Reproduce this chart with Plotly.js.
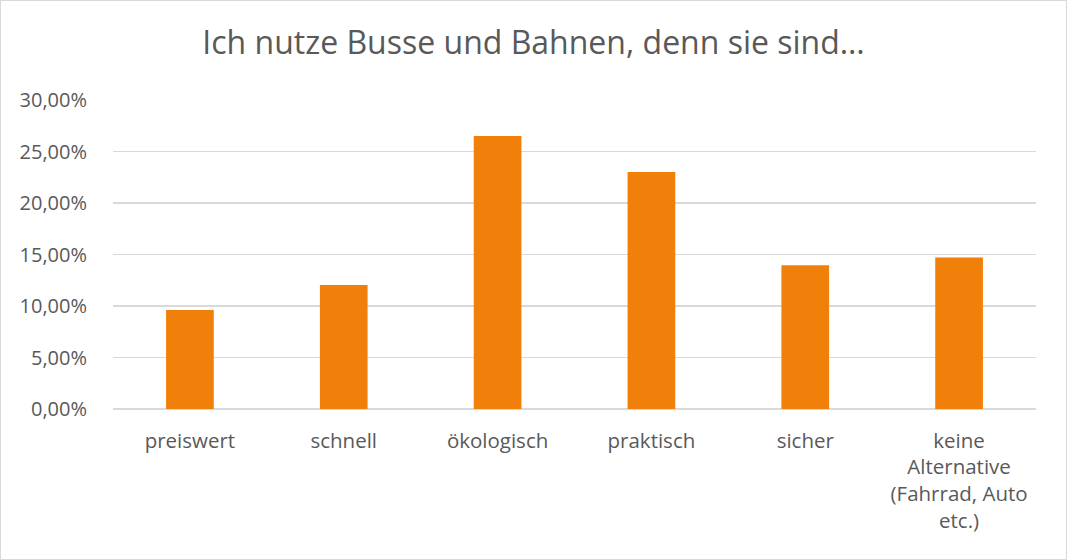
<!DOCTYPE html>
<html>
<head>
<meta charset="utf-8">
<script src="https://cdn.plot.ly/plotly-3.0.1.min.js"></script>
<style>
  html, body { margin: 0; padding: 0; background: #fff; }
  #chart { width: 1065px; height: 558px; border: 1px solid #d9d9d9; }
</style>
</head>
<body>
<div id="chart"></div>
<script>
const categories = [
  "preiswert",
  "schnell",
  "ökologisch",
  "praktisch",
  "sicher",
  "keine<br>Alternative<br>(Fahrrad, Auto<br>etc.)"
];
const shares = [0.096, 0.1205, 0.265, 0.230, 0.1395, 0.147];
const chartTitle = "Ich nutze Busse und Bahnen, denn sie sind…";

const fontFamily = "'Open Sans', 'Noto Sans', sans-serif";
const textColor = "#595959";

Plotly.newPlot("chart", [{
  type: "bar",
  x: categories,
  y: shares,
  marker: { color: "#F0800A" },
  hoverinfo: "skip"
}], {
  width: 1065,
  height: 558,
  separators: ",.",
  margin: { l: 112, r: 30, t: 99, b: 150 },
  paper_bgcolor: "#ffffff",
  plot_bgcolor: "#ffffff",
  bargap: 0.69,
  showlegend: false,
  title: {
    text: chartTitle,
    font: { family: fontFamily, size: 32, color: textColor },
    x: 0.5, xanchor: "center", xref: "container",
    y: 0.925, yanchor: "middle", yref: "container"
  },
  xaxis: {
    type: "category",
    showgrid: false,
    showline: false,
    zeroline: false,
    ticks: "outside",
    ticklen: 13,
    tickcolor: "rgba(0,0,0,0)",
    tickfont: { family: fontFamily, size: 20.5, color: textColor }
  },
  yaxis: {
    range: [0, 0.30],
    dtick: 0.05,
    tickformat: ".2%",
    showgrid: true,
    gridcolor: "#d9d9d9",
    gridwidth: 1.3,
    zeroline: true,
    zerolinecolor: "#d9d9d9",
    zerolinewidth: 1.3,
    showline: false,
    ticks: "outside",
    ticklen: 21,
    tickcolor: "rgba(0,0,0,0)",
    tickfont: { family: fontFamily, size: 20, color: textColor }
  }
}, { displayModeBar: false, staticPlot: true });
</script>
</body>
</html>
